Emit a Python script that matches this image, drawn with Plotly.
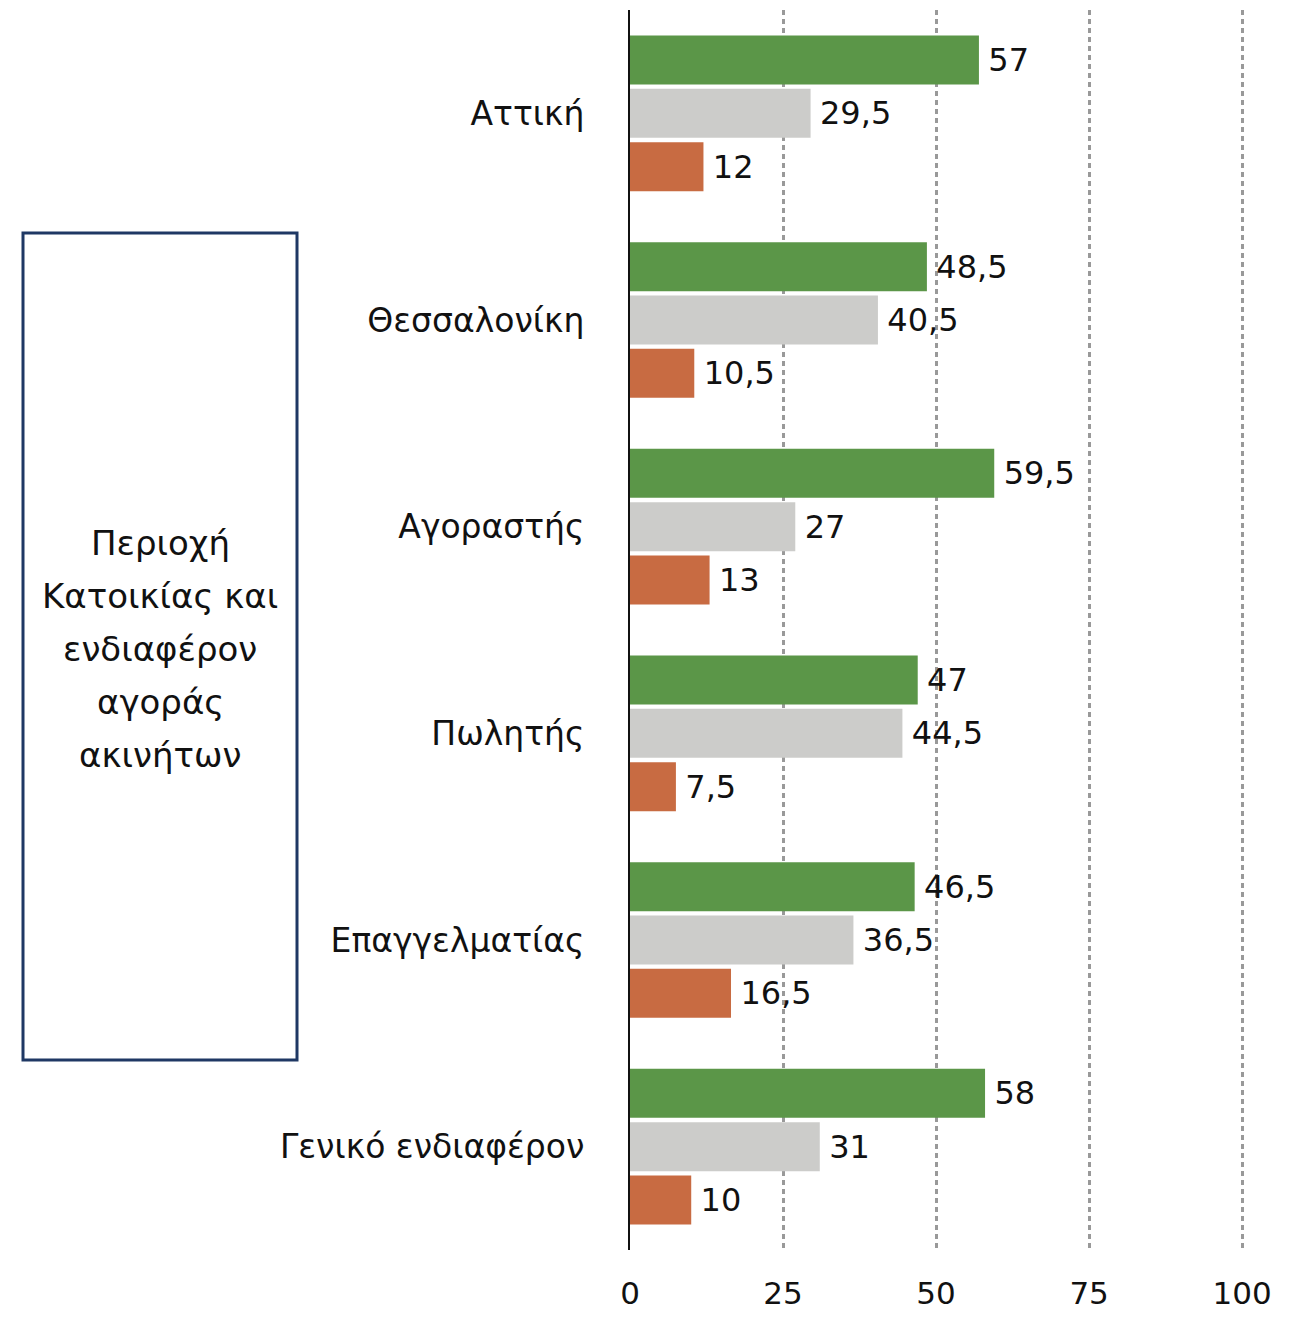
import plotly.graph_objects as go

categories = ["Αττική", "Θεσσαλονίκη", "Αγοραστής", "Πωλητής", "Επαγγελματίας", "Γενικό ενδιαφέρον"]
series_names = ["Θετικό", "Ουδέτερο", "Αρνητικό"]
green_vals = [57, 48.5, 59.5, 47, 46.5, 58]
grey_vals = [29.5, 40.5, 27, 44.5, 36.5, 31]
orange_vals = [12, 10.5, 13, 7.5, 16.5, 10]
colors = ["#5B9648", "#CCCCCA", "#C86B42"]
x_ticks = [0, 25, 50, 75, 100]
box_lines = ["Περιοχή", "Κατοικίας και", "ενδιαφέρον", "αγοράς", "ακινήτων"]

FONT = "'DejaVu Sans', sans-serif"

def fmt(v):
    return "\u2009" + f"{v:g}".replace(".", ",")

fig = go.Figure()
for name, vals, col in zip(series_names, [green_vals, grey_vals, orange_vals], colors):
    fig.add_trace(go.Bar(
        y=categories, x=vals, orientation="h", name=name,
        marker=dict(color=col, line=dict(width=0)),
        text=[fmt(v) for v in vals], textposition="outside",
        textfont=dict(size=32, color="#111111", family=FONT),
        cliponaxis=False,
    ))

OFF = 8  # page body margin
W, H = 1300, 1333
L, R, T, B = 630 - OFF, 64 - OFF + 8, 10 - OFF, 83 + OFF
pw, ph = W - L - R, H - T - B

def px_x(p):
    return (p - OFF - L) / pw

def px_y(p):
    return (H - B - (p - OFF)) / ph

fig.update_layout(
    width=W, height=H,
    margin=dict(l=L, r=R, t=T, b=B),
    paper_bgcolor="white", plot_bgcolor="white",
    barmode="group", bargap=0.226, bargroupgap=0.08,
    showlegend=False,
    font=dict(family=FONT, color="#111111"),
    xaxis=dict(
        range=[0, 100.3], tickvals=x_ticks, ticktext=[str(t) for t in x_ticks],
        showgrid=True, gridcolor="#999999", gridwidth=2.5, griddash="5px,4px",
        zeroline=False, showline=False,
        tickfont=dict(size=31, family=FONT, color="#111111"),
        ticks="outside", ticklen=16, tickcolor="rgba(0,0,0,0)",
    ),
    yaxis=dict(
        autorange="reversed",
        showline=True, linecolor="#111111", linewidth=2,
        showgrid=False, ticks="", ticklabelstandoff=37,
        tickfont=dict(size=33, family=FONT, color="#111111"),
    ),
)

fig.add_shape(type="rect", xref="paper", yref="paper",
              x0=px_x(23), x1=px_x(297), y0=px_y(1060), y1=px_y(233),
              line=dict(color="#1F3864", width=3), fillcolor="rgba(0,0,0,0)")

for i, line in enumerate(box_lines):
    fig.add_annotation(xref="paper", yref="paper", x=px_x(160), y=px_y(543 + 53 * i),
                       text=line, showarrow=False, xanchor="center", yanchor="middle",
                       font=dict(size=34, family=FONT, color="#111111"))

fig.write_html("out.html")
